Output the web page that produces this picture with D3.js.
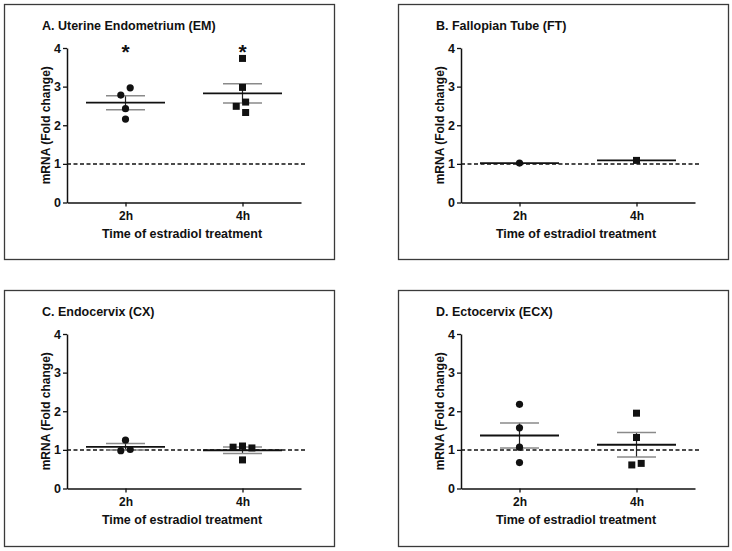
<!DOCTYPE html>
<html>
<head>
<meta charset="utf-8">
<script src="https://cdn.jsdelivr.net/npm/d3@7"></script>
<style>
  html, body { margin: 0; padding: 0; background: #fff; }
  svg { display: block; font-family: "Liberation Sans", Arial, sans-serif; }
</style>
</head>
<body>
<svg id="chart" width="732" height="551"></svg>
<script>
// ---------------- data ----------------
const groups = ["2h", "4h"];
const yTicks = [0, 1, 2, 3, 4];
const baselineValue = 1;
const xTitle = "Time of estradiol treatment";
const yTitle = "mRNA (Fold change)";

const panelTitles = [
  "A. Uterine Endometrium (EM)",
  "B. Fallopian Tube (FT)",
  "C. Endocervix (CX)",
  "D. Ectocervix (ECX)"
];

// individual fold-change values (2h = circles, 4h = squares)
const em2h  = [2.78, 2.97, 2.43, 2.16];
const em4h  = [3.73, 2.98, 2.60, 2.49, 2.33];
const ft2h  = [1.02];
const ft4h  = [1.09];
const cx2h  = [1.25, 0.98, 1.01];
const cx4h  = [1.07, 1.05, 1.10, 0.74];
const ecx2h = [2.18, 1.57, 1.07, 0.67];
const ecx4h = [1.95, 1.32, 0.61, 0.65];

// significance markers per group
const emSig  = ["*", "*"];
const ftSig  = ["", ""];
const cxSig  = ["", ""];
const ecxSig = ["", ""];

// ---------------- layout ----------------
const panels = [
  { title: panelTitles[0], series: [em2h, em4h],   sig: emSig,  bx: 4,   by: 4,   bh: 255 },
  { title: panelTitles[1], series: [ft2h, ft4h],   sig: ftSig,  bx: 398, by: 4,   bh: 255 },
  { title: panelTitles[2], series: [cx2h, cx4h],   sig: cxSig,  bx: 4,   by: 290, bh: 256 },
  { title: panelTitles[3], series: [ecx2h, ecx4h], sig: ecxSig, bx: 398, by: 290, bh: 256 }
];
const BW = 330;
const INK = "#111";

const svg = d3.select("#chart");

function mean(a) { return d3.mean(a); }
function sem(a) { return a.length > 1 ? d3.deviation(a) / Math.sqrt(a.length) : 0; }

// simple beeswarm so overlapping markers are spread sideways
function swarm(vals, y, D, step) {
  const pts = vals.map(v => ({ v, y: y(v), x: 0 })).sort((a, b) => b.v - a.v);
  const placed = [];
  const order = [0];
  for (let k = 1; k < 10; k++) { order.push(-k, k); }
  pts.forEach(p => {
    for (const k of order) {
      const x = k * step;
      if (placed.every(q => Math.abs(q.y - p.y) >= D || Math.abs(q.x - x) >= D)) { p.x = x; break; }
    }
    placed.push(p);
  });
  // centre each cluster of vertically-touching points
  const sorted = pts.slice().sort((a, b) => a.y - b.y);
  let cluster = [sorted[0]];
  const clusters = [];
  for (let i = 1; i < sorted.length; i++) {
    if (sorted[i].y - sorted[i - 1].y < D) cluster.push(sorted[i]);
    else { clusters.push(cluster); cluster = [sorted[i]]; }
  }
  clusters.push(cluster);
  clusters.forEach(c => {
    const m = d3.mean(c, d => d.x);
    c.forEach(d => d.x -= m);
  });
  return pts;
}

panels.forEach(p => {
  const g = svg.append("g").attr("transform", `translate(${p.bx},${p.by})`);

  // frame
  g.append("rect")
    .attr("x", 0.5).attr("y", 0.5)
    .attr("width", BW).attr("height", p.bh)
    .attr("fill", "none").attr("stroke", "#3a3a3a").attr("stroke-width", 1.3);

  const ax0 = 63, ax1 = 297;
  const yTop = 44, yBot = 198.5;

  const x = d3.scalePoint().domain(groups).range([ax0, ax1]).padding(0.5);
  const y = d3.scaleLinear().domain([0, 4]).range([yBot, yTop]);

  // title
  g.append("text")
    .attr("x", 38).attr("y", 25.5)
    .attr("font-size", 12.5).attr("font-weight", "bold").attr("fill", INK)
    .text(p.title);

  // y axis
  const yAxis = g.append("g").attr("transform", `translate(${ax0},0)`)
    .call(d3.axisLeft(y).tickValues(yTicks).tickSize(4).tickSizeOuter(0).tickFormat(d3.format("d")));
  yAxis.select(".domain").attr("stroke", INK).attr("stroke-width", 1.5);
  yAxis.selectAll(".tick line").attr("stroke", INK).attr("stroke-width", 1.3);
  yAxis.selectAll(".tick text")
    .attr("x", -6).attr("font-size", 12.5).attr("font-weight", "bold")
    .attr("font-family", "Liberation Sans, Arial, sans-serif").attr("fill", INK);

  // x axis
  const xAxis = g.append("g").attr("transform", `translate(0,${yBot})`)
    .call(d3.axisBottom(x).tickSize(4).tickSizeOuter(0));
  xAxis.select(".domain").attr("stroke", INK).attr("stroke-width", 1.5);
  xAxis.selectAll(".tick line").attr("stroke", INK).attr("stroke-width", 1.3);
  xAxis.selectAll(".tick text")
    .attr("y", 9).attr("font-size", 12).attr("font-weight", "bold")
    .attr("font-family", "Liberation Sans, Arial, sans-serif").attr("fill", INK);

  // axis titles
  g.append("text")
    .attr("x", (ax0 + ax1) / 2 - 2).attr("y", yBot + 35)
    .attr("text-anchor", "middle")
    .attr("font-size", 12.5).attr("font-weight", "bold").attr("fill", INK)
    .text(xTitle);
  g.append("text")
    .attr("transform", `translate(${ax0 - 17},${(yTop + yBot) / 2}) rotate(-90)`)
    .attr("text-anchor", "middle")
    .attr("font-size", 12).attr("font-weight", "bold").attr("fill", INK)
    .text(yTitle);

  // dashed reference line at fold change = 1
  g.append("line")
    .attr("x1", ax0).attr("x2", ax1 + 4)
    .attr("y1", y(baselineValue)).attr("y2", y(baselineValue))
    .attr("stroke", INK).attr("stroke-width", 1.5)
    .attr("stroke-dasharray", "4,2.5");

  // groups
  p.series.forEach((vals, gi) => {
    const cx = x(groups[gi]);
    const m = mean(vals), s = sem(vals);

    // SEM whisker
    if (s > 0) {
      g.append("line")
        .attr("x1", cx).attr("x2", cx)
        .attr("y1", y(m + s)).attr("y2", y(m - s))
        .attr("stroke", "#222").attr("stroke-width", 1.2);
      [m + s, m - s].forEach(v => {
        g.append("line")
          .attr("x1", cx - 19.5).attr("x2", cx + 19.5)
          .attr("y1", y(v)).attr("y2", y(v))
          .attr("stroke", "#8a8a8a").attr("stroke-width", 1.5);
      });
    }
    // mean line
    g.append("line")
      .attr("x1", cx - 39.5).attr("x2", cx + 39.5)
      .attr("y1", y(m)).attr("y2", y(m))
      .attr("stroke", INK).attr("stroke-width", 1.8);

    // points
    const pts = swarm(vals, y, 8, 4.7);
    if (gi === 0) {
      g.selectAll(null).data(pts).enter().append("circle")
        .attr("cx", d => cx + d.x).attr("cy", d => d.y)
        .attr("r", 3.6).attr("fill", INK);
    } else {
      g.selectAll(null).data(pts).enter().append("rect")
        .attr("x", d => cx + d.x - 3.5).attr("y", d => d.y - 3.5)
        .attr("width", 7).attr("height", 7).attr("fill", INK);
    }

    // significance
    if (p.sig[gi]) {
      g.append("text")
        .attr("x", cx).attr("y", yTop + 11)
        .attr("text-anchor", "middle")
        .attr("font-size", 21).attr("font-weight", "bold").attr("fill", INK)
        .text(p.sig[gi]);
    }
  });
});
</script>
</body>
</html>
